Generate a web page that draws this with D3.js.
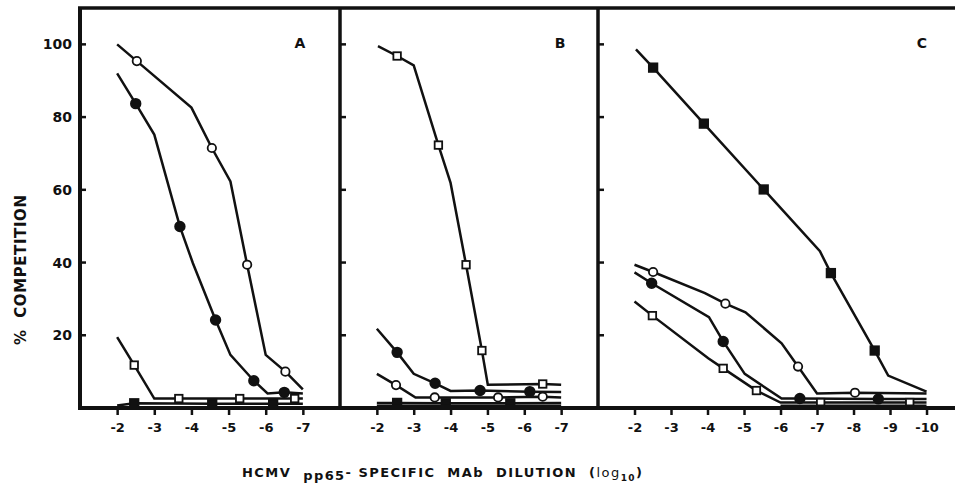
<!DOCTYPE html>
<html>
<head>
<meta charset="utf-8">
<script src="https://cdn.jsdelivr.net/npm/d3@7"></script>
<style>
  body { margin: 0; background: #fff; }
  text { font-family: "DejaVu Sans", "Liberation Sans", Arial, sans-serif; font-weight: bold; fill: #111; }
</style>
</head>
<body>
<div id="chart"></div>
<script>
// data: [log10 dilution, % competition, has marker]
var panelNames = ["A", "B", "C"];
var yTicks = [20, 40, 60, 80, 100];
var xTicksAB = [-2, -3, -4, -5, -6, -7];
var xTicksC = [-2, -3, -4, -5, -6, -7, -8, -9, -10];
var xTickLabelsAB = ["-2", "-3", "-4", "-5", "-6", "-7"];
var xTickLabelsC = ["-2", "-3", "-4", "-5", "-6", "-7", "-8", "-9", "-10"];

var a_openCircle = [[-2, 100, 0], [-2.53, 95.4, 1], [-4, 82.6, 0], [-4.55, 71.5, 1], [-5.05, 62.3, 0],
    [-5.5, 39.4, 1], [-6, 14.6, 0], [-6.53, 10, 1], [-7, 5.1, 0]];
var a_filledCircle = [[-2, 92, 0], [-2.5, 83.7, 1], [-3, 75.2, 0], [-3.69, 49.9, 1], [-4.04, 39.8, 0],
    [-4.65, 24.2, 1], [-5.05, 14.6, 0], [-5.68, 7.5, 1], [-6.05, 4, 0], [-6.5, 4.3, 1], [-7, 4, 0]];
var a_openSquare = [[-2, 19.5, 0], [-2.46, 11.8, 1], [-3, 2.6, 0], [-3.66, 2.6, 1], [-5.3, 2.6, 1],
    [-6.78, 2.6, 1], [-7, 2.6, 0]];
var a_filledSquare = [[-2, 0.7, 0], [-2.46, 1.3, 1], [-4.56, 1.2, 1], [-6.2, 1.2, 1], [-7, 1.2, 0]];

var b_openSquare = [[-2.03, 99.5, 0], [-2.55, 96.8, 1], [-3, 94.2, 0], [-3.67, 72.3, 1], [-4, 61.9, 0],
    [-4.42, 39.4, 1], [-4.85, 15.8, 1], [-5.01, 6.4, 0], [-6.5, 6.6, 1], [-7, 6.4, 0]];
var b_filledCircle = [[-2, 21.8, 0], [-2.55, 15.3, 1], [-3, 9.4, 0], [-3.58, 6.8, 1], [-4, 4.7, 0],
    [-4.8, 4.8, 1], [-6.15, 4.5, 1], [-7, 4.4, 0]];
var b_openCircle = [[-2, 9.4, 0], [-2.52, 6.3, 1], [-3.05, 2.9, 0], [-3.57, 2.9, 1], [-5.29, 2.9, 1],
    [-6.5, 3.1, 1], [-7, 2.9, 0]];
var b_filledSquare = [[-2, 1.4, 0], [-2.55, 1.4, 1], [-3.87, 1.3, 1], [-5.62, 1.3, 1], [-7, 1.4, 0]];
var b_plain = [[-2, 0.6, 0], [-7, 0.6, 0]];

var c_filledSquare = [[-2.04, 98.6, 0], [-2.51, 93.6, 1], [-3.9, 78.2, 1], [-5.54, 60.1, 1], [-7.08, 43.1, 0],
    [-7.38, 37.1, 1], [-8.58, 15.8, 1], [-8.95, 8.9, 0], [-10, 4.5, 0]];
var c_openCircle = [[-2, 39.4, 0], [-2.51, 37.4, 1], [-3.93, 31.6, 0], [-4.49, 28.7, 1], [-5.04, 26.3, 0],
    [-6.03, 17.8, 0], [-6.48, 11.4, 1], [-7, 4, 0], [-8.04, 4.2, 1], [-10, 4, 0]];
var c_filledCircle = [[-2, 37.3, 0], [-2.47, 34.3, 1], [-4.04, 25, 0], [-4.43, 18.3, 1], [-5.02, 9.4, 0],
    [-6.03, 2.6, 0], [-6.53, 2.6, 1], [-8.68, 2.5, 1], [-10, 2.5, 0]];
var c_openSquare = [[-2, 29.3, 0], [-2.49, 25.4, 1], [-4.02, 13.7, 0], [-4.43, 10.9, 1], [-5.34, 4.8, 1],
    [-6, 1.5, 0], [-7.1, 1.5, 1], [-9.54, 1.5, 1], [-10, 1.5, 0]];
var c_plain = [[-6, 0.6, 0], [-10, 0.6, 0]];

// setup
var width = 955, height = 483;
var top_y = 8, bottom_y = 408;

var panels = [
    { name: "A", domain: [-1, -8], range: [80, 340], ticks: xTicksAB, labels: xTickLabelsAB,
      series: [["oc", a_openCircle], ["fc", a_filledCircle], ["os", a_openSquare], ["fs", a_filledSquare]] },
    { name: "B", domain: [-1, -8], range: [340, 598], ticks: xTicksAB, labels: xTickLabelsAB,
      series: [["os", b_openSquare], ["fc", b_filledCircle], ["oc", b_openCircle], ["fs", b_filledSquare], ["none", b_plain]] },
    { name: "C", domain: [-1, -10.78], range: [598, 955], ticks: xTicksC, labels: xTickLabelsC,
      series: [["fs", c_filledSquare], ["oc", c_openCircle], ["fc", c_filledCircle], ["os", c_openSquare], ["none", c_plain]] }
];

var yScale = d3.scaleLinear().domain([0, 110]).range([bottom_y, top_y]);

var svg = d3.select("#chart")
    .append("svg")
    .attr("width", width)
    .attr("height", height);

panels.forEach(function(p, i) {
    var xScale = d3.scaleLinear().domain(p.domain).range(p.range);
    var g = svg.append("g").attr("class", "panel");

    // x ticks below the axis
    var xAxis = d3.axisBottom(xScale)
        .tickValues(p.ticks)
        .tickFormat(function(d, j) { return p.labels[j]; })
        .tickSize(7)
        .tickPadding(8);
    var ax = g.append("g")
        .attr("transform", "translate(0," + bottom_y + ")")
        .call(xAxis);
    ax.select(".domain").remove();
    ax.selectAll(".tick line").attr("stroke", "#111").attr("stroke-width", 2.5);
    ax.selectAll(".tick text")
        .style("font-size", "13px")
        .style("font-family", "'DejaVu Sans', sans-serif")
        .attr("fill", "#111");

    // inward y ticks on the panel's left border
    var left = p.range[0];
    g.selectAll(".ytick")
        .data(yTicks)
        .enter().append("line")
        .attr("x1", left)
        .attr("x2", left + 6)
        .attr("y1", function(d) { return yScale(d); })
        .attr("y2", function(d) { return yScale(d); })
        .attr("stroke", "#111")
        .attr("stroke-width", 2.5);

    // panel letter
    g.append("text")
        .attr("x", p.range[0] + (i == 2 ? 324 : 220))
        .attr("y", 48)
        .style("font-size", "14px")
        .style("text-anchor", "middle")
        .text(p.name);

    var line = d3.line()
        .x(function(d) { return xScale(d[0]); })
        .y(function(d) { return yScale(d[1]); });

    p.series.forEach(function(s) {
        var kind = s[0], pts = s[1];
        g.append("path")
            .datum(pts)
            .attr("d", line)
            .style("fill", "none")
            .style("stroke", "#111")
            .style("stroke-width", "2.5");

        var marks = pts.filter(function(d) { return d[2] == 1; });
        if (kind == "oc" || kind == "fc") {
            g.selectAll(null)
                .data(marks)
                .enter().append("circle")
                .attr("cx", function(d) { return xScale(d[0]); })
                .attr("cy", function(d) { return yScale(d[1]); })
                .attr("r", kind == "oc" ? 4.2 : 4.8)
                .attr("fill", kind == "oc" ? "#fff" : "#111")
                .attr("stroke", "#111")
                .attr("stroke-width", 1.8);
        } else if (kind == "os" || kind == "fs") {
            var sz = kind == "os" ? 7.5 : 8.5;
            g.selectAll(null)
                .data(marks)
                .enter().append("rect")
                .attr("x", function(d) { return xScale(d[0]) - sz / 2; })
                .attr("y", function(d) { return yScale(d[1]) - sz / 2; })
                .attr("width", sz)
                .attr("height", sz)
                .attr("fill", kind == "os" ? "#fff" : "#111")
                .attr("stroke", "#111")
                .attr("stroke-width", 1.8);
        }
    });
});

// frame: top, left border, dividers, bottom axis
var frame = svg.append("g").attr("stroke", "#111").attr("fill", "none");
frame.append("line").attr("x1", 78).attr("x2", width).attr("y1", top_y).attr("y2", top_y).attr("stroke-width", 3.5);
frame.append("line").attr("x1", 80).attr("x2", 80).attr("y1", top_y).attr("y2", bottom_y).attr("stroke-width", 4);
frame.append("line").attr("x1", 340).attr("x2", 340).attr("y1", top_y).attr("y2", bottom_y).attr("stroke-width", 3.5);
frame.append("line").attr("x1", 598).attr("x2", 598).attr("y1", top_y).attr("y2", bottom_y).attr("stroke-width", 3.5);
frame.append("line").attr("x1", 78).attr("x2", width).attr("y1", bottom_y).attr("y2", bottom_y).attr("stroke-width", 4);

// y tick labels
svg.selectAll(".ylabel")
    .data(yTicks)
    .enter().append("text")
    .attr("x", 72)
    .attr("y", function(d) { return yScale(d); })
    .attr("dy", "0.36em")
    .style("text-anchor", "end")
    .style("font-size", "14px")
    .text(function(d) { return d; });

// y title
svg.append("text")
    .attr("transform", "translate(26,270) rotate(-90)")
    .attr("textLength", 150)
    .attr("lengthAdjust", "spacing")
    .style("text-anchor", "middle")
    .style("font-size", "15px")
    .style("white-space", "pre")
    .text("%  COMPETITION");

// x title
var xt = svg.append("text")
    .attr("x", 442)
    .attr("y", 477)
    .attr("textLength", 400)
    .attr("lengthAdjust", "spacing")
    .style("text-anchor", "middle")
    .style("font-size", "13px")
    .style("white-space", "pre");
xt.append("tspan").text("HCMV  ");
xt.append("tspan").attr("dy", 3).text("pp65");
xt.append("tspan").attr("dy", -3).text("- SPECIFIC  MAb  DILUTION  (");
xt.append("tspan").style("font-weight", "normal").text("log");
xt.append("tspan").attr("dy", 4).style("font-size", "9px").text("10");
xt.append("tspan").attr("dy", -4).text(")");
</script>
</body>
</html>
